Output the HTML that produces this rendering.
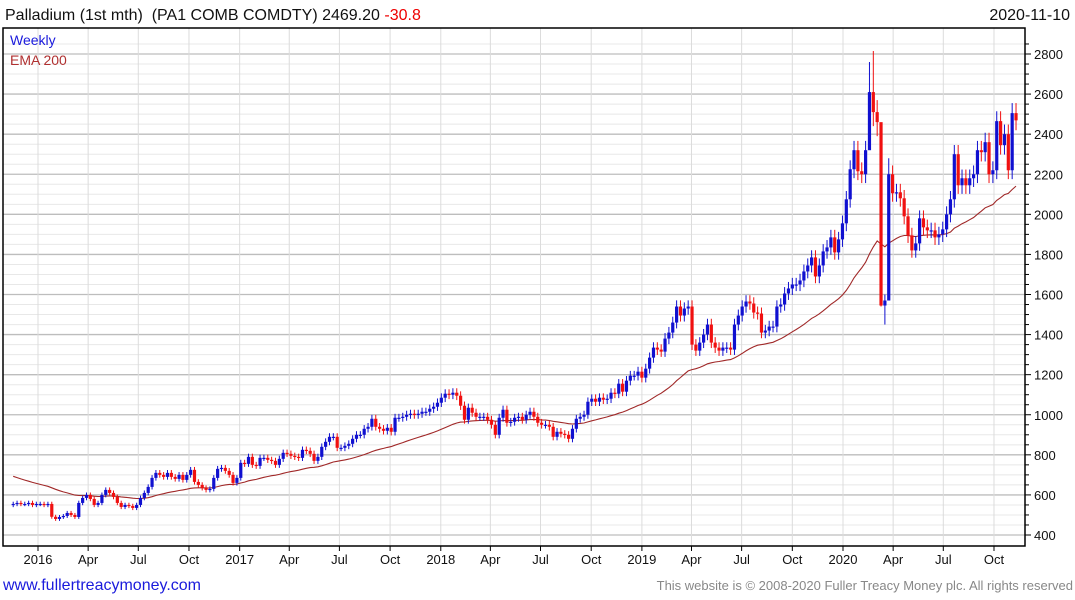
<!DOCTYPE html>
<html><head><meta charset="utf-8"><style>
html,body{margin:0;padding:0;background:#fff;width:1075px;height:600px;overflow:hidden;font-family:"Liberation Sans",sans-serif}
svg text{font-family:"Liberation Sans",sans-serif}
</style></head><body>
<svg id="chart" width="1075" height="600" xmlns="http://www.w3.org/2000/svg">
<text x="5" y="20" font-size="16" fill="#111">Palladium (1st mth) &#160;(PA1 COMB COMDTY) 2469.20 <tspan fill="#e00">-30.8</tspan></text>
<text x="1070" y="20" font-size="16" fill="#111" text-anchor="end">2020-11-10</text>
<g id="grid"></g>
<g id="ema"></g>
<g id="candles"></g>
<rect x="3" y="28" width="1022" height="518" fill="none" stroke="#000" stroke-width="1.5"/>
<g id="axes"></g>
<text x="10" y="45" font-size="14" fill="#1a1adc">Weekly</text>
<text x="10" y="65" font-size="14" fill="#b03030">EMA 200</text>
<text x="3" y="590" font-size="16" fill="#1a1adc">www.fullertreacymoney.com</text>
<text x="1073" y="590" font-size="13" fill="#888" text-anchor="end">This website is © 2008-2020 Fuller Treacy Money plc. All rights reserved</text>
</svg>
<script>
const closes = [555,560,555,555,560,550,555,555,550,555,
491,480,490,495,510,500,490,
560,585,600,580,550,560,600,625,610,590,
560,540,550,545,535,550,585,610,640,685,
710,700,690,710,690,680,700,675,700,725,
665,650,635,625,630,685,730,735,720,700,
660,685,760,755,790,750,745,785,785,775,
770,750,780,810,805,795,790,785,825,820,
805,770,790,840,865,890,890,835,835,845,
855,880,900,900,930,940,980,940,930,920,
935,915,985,985,990,1000,1005,1000,1005,1015,
1015,1030,1040,1060,1085,1105,1100,
1110,1095,1045,975,1035,1010,990,990,990,975,
950,900,985,1025,960,965,985,990,975,1000,
1015,990,960,950,950,940,890,915,905,900,
880,930,980,990,1000,1065,1080,1065,1085,1075,
1080,1110,1105,1155,1115,1170,1195,1195,1215,1185,
1230,1285,1335,1325,1315,1380,1410,1460,1540,1495,
1530,1540,1350,1320,1360,1400,1450,1360,1335,1320,
1335,1335,1325,1450,1495,1540,1565,1555,1510,1505,
1410,1420,1440,1440,1540,1550,1605,1630,1650,1650,
1670,1715,
1745,1785,1690,1745,1815,1835,1885,1810,1875,1955,
2075,2225,2320,2215,2200,2320,2610,2510,2460,1545,
1570,2200,2105,2110,2080,1990,1895,1820,1855,1980,
1935,1920,1920,1885,1900,1925,2000,2075,2300,2145,
2180,2145,2180,2200,2320,2310,2360,2200,2220,2465,
2345,2400,2220,2505,2469];
const spikeIdx = [222,223,224,225,226,227];
const spikeHigh = [2760,2815,2570,2420,1600,2280];
const spikeLow = [2330,2440,2390,1540,1450,1590];
const yTicks = [400,600,800,1000,1200,1400,1600,1800,2000,2200,2400,2600,2800];
const xTickDates = ["2016-01-01","2016-04-01","2016-07-01","2016-10-01","2017-01-01","2017-04-01","2017-07-01","2017-10-01","2018-01-01","2018-04-01","2018-07-01","2018-10-01","2019-01-01","2019-04-01","2019-07-01","2019-10-01","2020-01-01","2020-04-01","2020-07-01","2020-10-01"];
const xTickLabels = ["2016","Apr","Jul","Oct","2017","Apr","Jul","Oct","2018","Apr","Jul","Oct","2019","Apr","Jul","Oct","2020","Apr","Jul","Oct"];
const endDate = "2020-11-10";
const emaSeed = 700;

const NS="http://www.w3.org/2000/svg";
const D0=Date.parse("2016-01-01"), DAY=86400000;
function xScale(ms){return 38+(ms-D0)/DAY*0.551;}
function yScale(v){return 535-(v-400)*(481/2400);}
function mk(tag,attrs,parent){const e=document.createElementNS(NS,tag);for(const k in attrs)e.setAttribute(k,attrs[k]);parent.appendChild(e);return e;}
const grid=document.getElementById('grid'),axes=document.getElementById('axes'),cg=document.getElementById('candles'),eg=document.getElementById('ema');
for(let v=400;v<=2850;v+=50){
  const y=yScale(v);const major=v%200===0;
  const l=mk('line',{x1:3,x2:1025,y1:y,y2:y,stroke:major?'#bdbdbd':'#e8e8e8','stroke-width':major?1.3:1},grid);
  
  
  const t=mk('line',{x1:1025,x2:major?1031:1029,y1:y,y2:y,stroke:'#000'},axes);
  
  
}
yTicks.forEach(v=>{
  const t=mk('text',{x:1034,y:yScale(v)+5,'font-size':13,fill:'#111'},axes);t.textContent=v;
  
  
});
xTickDates.forEach((d,i)=>{
  const x=xScale(Date.parse(d));
  const l=mk('line',{x1:x,x2:x,y1:28,y2:546,stroke:'#dcdcdc'},grid);
  
  
  const t=mk('line',{x1:x,x2:x,y1:546,y2:551,stroke:'#000'},axes);
  
  
  const tx=mk('text',{x:x,y:564,'font-size':13,fill:'#111','text-anchor':'middle'},axes);tx.textContent=xTickLabels[i];
  
  
});
const n=closes.length,endMs=Date.parse(endDate);
let ema=emaSeed;const alpha=2/41;const pts=[];
for(let i=0;i<n;i++){
  const c=closes[i],o=i?closes[i-1]:550;
  let hi=Math.max(o,c)*1.02,lo=Math.min(o,c)*0.98;
  const si=spikeIdx.indexOf(i);if(si>=0){hi=spikeHigh[si];lo=spikeLow[si];}
  const x=xScale(endMs-(n-1-i)*7*DAY);
  const col=c>=o?'#1010d0':'#f01010';
  const w=mk('line',{x1:x,x2:x,y1:yScale(hi),y2:yScale(lo),stroke:col,'stroke-width':1},cg);
  
  
  const yt=yScale(Math.max(o,c)),yb=yScale(Math.min(o,c));
  const b=mk('rect',{x:x-1.6,y:yt,width:3.2,height:Math.max(1.2,yb-yt),fill:col},cg);
  
  
  ema=ema+alpha*(c-ema);pts.push(x.toFixed(1)+','+yScale(ema).toFixed(1));
}
const pl=mk('polyline',{points:pts.join(' '),fill:'none',stroke:'#a02828','stroke-width':1.1},eg);


</script>
</body></html>
